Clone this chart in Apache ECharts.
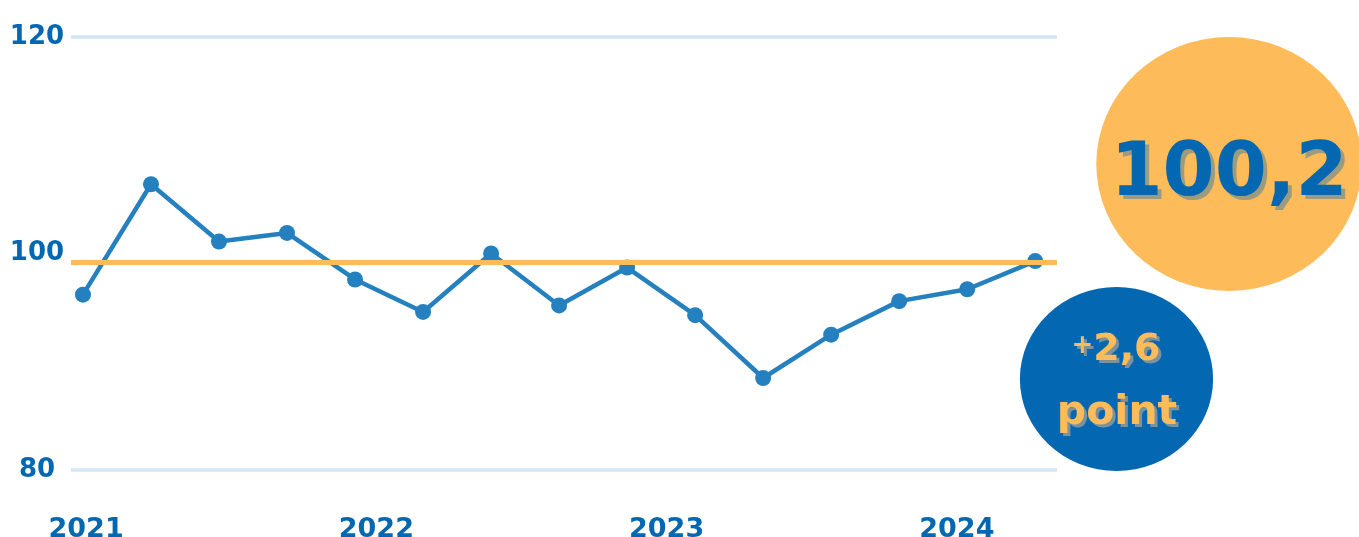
<!DOCTYPE html>
<html>
<head>
<meta charset="utf-8">
<script src="https://cdn.jsdelivr.net/npm/echarts@6/dist/echarts.min.js"></script>
<style>
  html, body { margin: 0; padding: 0; background: #fff; }
  #main { width: 1359px; height: 537px; }
</style>
</head>
<body>
<div id="main"></div>
<script>
(function () {

    // index values, one point per period, 2021 -> 2024
    var values = [96.2, 106.4, 101.1, 101.9, 97.6, 94.6, 100.0, 95.2, 98.7, 94.3, 88.5, 92.5, 95.6, 96.7, 99.3];
    var yearLabels = [2021, 2022, 2023, 2024];
    var yTicks = [80, 100, 120];
    var refValue = 99.2;
    var bigValue = '100,2';
    var deltaSign = '+';
    var deltaValue = '2,6';
    var deltaUnit = 'point';

    var blue = '#0467b1';
    var orange = '#fdbb5a';
    var font = 'DejaVu Sans';

    var points = values.map(function (v, i) { return [i, v]; });

    var myChart = echarts.init(document.getElementById('main'));
    myChart.setOption({
        animation: false,
        grid: { left: 71, right: 302, top: 37, bottom: 67, outerBoundsMode: 'none', containLabel: false },
        xAxis: [
            {
                type: 'value',
                min: -0.176,
                max: 14.32,
                show: false
            },
            {
                type: 'value',
                position: 'bottom',
                min: 2020.948,
                max: 2024.345,
                axisLine: { show: false },
                axisTick: { show: false },
                splitLine: { show: false },
                axisLabel: {
                    customValues: yearLabels,
                    formatter: function (v) { return String(v); },
                    color: blue,
                    fontFamily: font,
                    fontWeight: 'bold',
                    fontSize: 27,
                    margin: 46
                }
            }
        ],
        yAxis: {
            type: 'value',
            min: 80,
            max: 120,
            interval: 40,
            axisLine: { show: false },
            axisTick: { show: false },
            splitLine: { lineStyle: { color: '#d4e6f3', width: 3.5 } },
            axisLabel: {
                customValues: yTicks,
                color: blue,
                fontFamily: font,
                fontWeight: 'bold',
                fontSize: 26,
                align: 'center',
                margin: 34
            }
        },
        series: [
            {
                type: 'line',
                xAxisIndex: 0,
                data: points,
                z: 2,
                symbol: 'circle',
                symbolSize: 16,
                lineStyle: { color: '#2580bf', width: 4.5 },
                itemStyle: { color: '#2580bf' }
            },
            {
                type: 'line',
                xAxisIndex: 0,
                data: [],
                z: 3,
                markLine: {
                    silent: true,
                    symbol: 'none',
                    label: { show: false },
                    lineStyle: { color: orange, width: 5, type: 'solid' },
                    data: [{ yAxis: refValue }]
                }
            }
        ],
        graphic: [
            { type: 'circle', x: 1229, y: 164, scaleX: 1.045, shape: { cx: 0, cy: 0, r: 127 }, style: { fill: orange }, z: 10 },
            { type: 'circle', x: 1116.5, y: 379, scaleX: 1.05, shape: { cx: 0, cy: 0, r: 92 }, style: { fill: blue }, z: 10 },
            // shadow copies first, then the text
            { type: 'text', x: 1233, y: 180, z: 11, style: { text: bigValue, fill: '#9c9b7d', font: 'bold 75px ' + font, align: 'center', verticalAlign: 'middle' } },
            { type: 'text', x: 1229, y: 176, z: 12, style: { text: bigValue, fill: blue, font: 'bold 75px ' + font, align: 'center', verticalAlign: 'middle' } },
            { type: 'text', x: 1119, y: 353, z: 11, style: { text: '{a|' + deltaSign + '}{b|' + deltaValue + '}', align: 'center', verticalAlign: 'middle',
                rich: { a: { fill: '#7a93a0', fontFamily: font, fontWeight: 'bold', fontSize: 26, padding: [0, 0, 8, 0] }, b: { fill: '#7a93a0', fontFamily: font, fontWeight: 'bold', fontSize: 38 } } } },
            { type: 'text', x: 1116, y: 350, z: 12, style: { text: '{a|' + deltaSign + '}{b|' + deltaValue + '}', align: 'center', verticalAlign: 'middle',
                rich: { a: { fill: orange, fontFamily: font, fontWeight: 'bold', fontSize: 26, padding: [0, 0, 8, 0] }, b: { fill: orange, fontFamily: font, fontWeight: 'bold', fontSize: 38 } } } },
            { type: 'text', x: 1120, y: 416, z: 11, style: { text: deltaUnit, fill: '#7a93a0', font: 'bold 41px ' + font, align: 'center', verticalAlign: 'middle' } },
            { type: 'text', x: 1117, y: 413, z: 12, style: { text: deltaUnit, fill: orange, font: 'bold 41px ' + font, align: 'center', verticalAlign: 'middle' } }
        ]
    });

    window.addEventListener('resize', function () {
        myChart.resize();
    });

})();
</script>
</body>
</html>
